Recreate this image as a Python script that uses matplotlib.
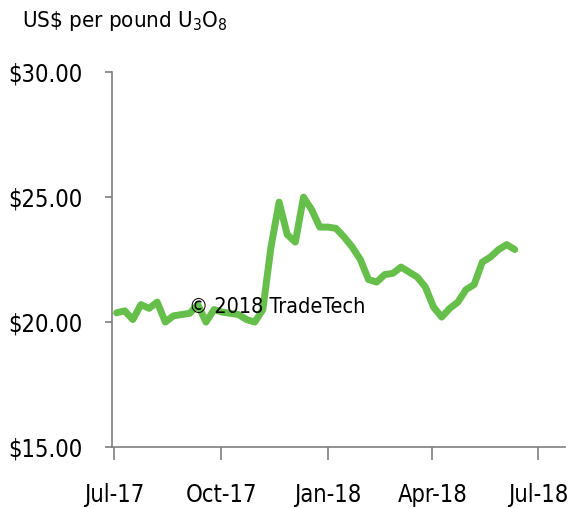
import matplotlib.pyplot as plt
import matplotlib.dates as mdates
import numpy as np
import pandas as pd

plt.rcParams['font.family'] = ['DejaVu Sans']
plt.rcParams['font.stretch'] = 'condensed'
plt.rcParams['mathtext.fontset'] = 'custom'
plt.rcParams['mathtext.rm'] = 'DejaVu Sans:stretch=condensed'

# weekly spot price, US$/lb U3O8
weeks = pd.date_range('2017-07-03', periods=50, freq='7D')
price = [20.37, 20.45, 20.10, 20.70, 20.55, 20.80, 20.00, 20.25, 20.30, 20.35,
         20.70, 20.00, 20.50, 20.40, 20.35, 20.30, 20.10, 20.00, 20.50, 23.00,
         24.80, 23.50, 23.20, 25.00, 24.50, 23.80, 23.80, 23.75, 23.40, 23.00,
         22.50, 21.70, 21.60, 21.90, 21.95, 22.20, 22.00, 21.80, 21.40, 20.60,
         20.20, 20.55, 20.80, 21.30, 21.50, 22.40, 22.60, 22.90, 23.10, 22.90]

yticks = [15, 20, 25, 30]
xticks = pd.to_datetime(['2017-07-01', '2017-10-01', '2018-01-01', '2018-04-01', '2018-07-01'])

fig = plt.figure(figsize=(5.71, 5.08), dpi=100)
ax = fig.add_axes([0.196, 0.12, 0.793, 0.738])

ax.plot(weeks, price, color='#66bf4a', lw=5, solid_joinstyle='round', solid_capstyle='round')

ax.set_ylim(15, 30)
ax.set_xlim(pd.Timestamp('2017-06-29'), pd.Timestamp('2018-07-24'))
ax.set_yticks(yticks)
ax.set_yticklabels(['$%.2f' % v for v in yticks])
ax.set_xticks(xticks)
ax.xaxis.set_major_formatter(mdates.DateFormatter('%b-%y'))

for s in ['top', 'right']:
    ax.spines[s].set_visible(False)
for s in ['left', 'bottom']:
    ax.spines[s].set_color('#7f7f7f')
    ax.spines[s].set_linewidth(1.2)
ax.tick_params(axis='y', length=5, width=1.2, color='#7f7f7f', pad=16, labelsize=17)
ax.tick_params(axis='x', length=9, width=1.2, color='#7f7f7f', pad=17, labelsize=17)

ax.text(pd.Timestamp('2017-09-03'), 20.6, '\u00a9 2018 TradeTech', fontsize=15.5, va='center')
fig.text(0.038, 0.958, 'US\\$ per pound U$_3$O$_8$', fontsize=16, va='center')

fig.savefig('out.png')
